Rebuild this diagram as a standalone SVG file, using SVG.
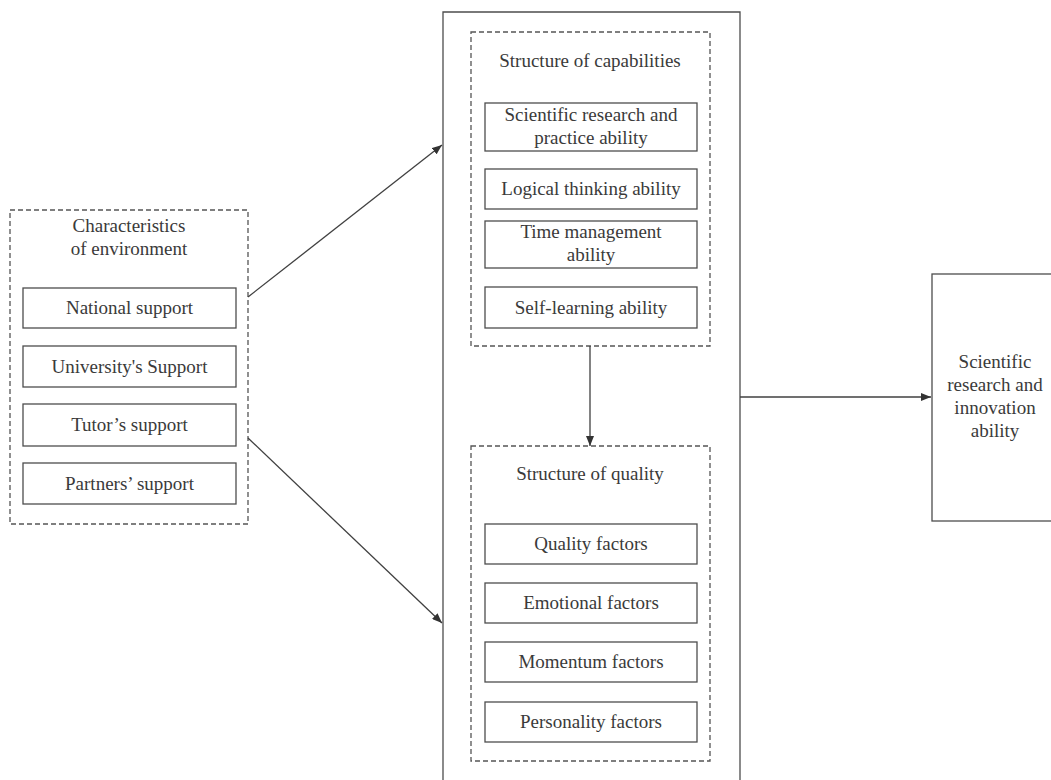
<svg xmlns="http://www.w3.org/2000/svg" width="1051" height="780" viewBox="0 0 1051 780" font-family="'Liberation Serif', 'Times New Roman', 'DejaVu Serif', serif">
<style>
text{font-family:'Liberation Serif','Times New Roman','DejaVu Serif',serif;font-size:19px;fill:#3a3a3a;text-anchor:middle}
.box{fill:#fff;stroke:#4d4d4d;stroke-width:1.3}
.dash{fill:none;stroke:#555;stroke-width:1.3;stroke-dasharray:5 3}
.outer{fill:none;stroke:#4d4d4d;stroke-width:1.3}
.conn{fill:none;stroke:#404040;stroke-width:1.3}
</style>
<defs>
<marker id="arr" viewBox="0 0 10 8" refX="10" refY="4" markerWidth="10" markerHeight="8" markerUnits="userSpaceOnUse" orient="auto">
<path d="M0,0 L10,4 L0,8 Z" fill="#333"/>
</marker>
</defs>
<rect width="1051" height="780" fill="#fff"/>

<g id="environment">
<rect class="dash" x="10" y="210" width="238" height="314"/>
<text x="129" y="232">Characteristics</text>
<text x="129" y="255">of environment</text>
<g id="national"><rect class="box" x="23" y="288" width="213" height="40"/><text x="129.5" y="314">National support</text></g>
<g id="university"><rect class="box" x="23" y="346" width="213" height="41"/><text x="129.5" y="373">University's Support</text></g>
<g id="tutor"><rect class="box" x="23" y="404" width="213" height="42"/><text x="129.5" y="431">Tutor’s support</text></g>
<g id="partners"><rect class="box" x="23" y="463" width="213" height="41"/><text x="129.5" y="490">Partners’ support</text></g>
</g>

<g id="middle">
<path class="outer" d="M443,790 L443,12 L740,12 L740,790"/>
</g>

<g id="capabilities">
<rect class="dash" x="471" y="32" width="239" height="314"/>
<text x="590" y="67">Structure of capabilities</text>
<g id="research-practice"><rect class="box" x="485" y="103" width="212" height="48"/><text x="591" y="121">Scientific research and</text><text x="591" y="144">practice ability</text></g>
<g id="logical"><rect class="box" x="485" y="169" width="212" height="40"/><text x="591" y="195">Logical thinking ability</text></g>
<g id="time"><rect class="box" x="485" y="221" width="212" height="47"/><text x="591" y="238">Time management</text><text x="591" y="261">ability</text></g>
<g id="self-learning"><rect class="box" x="485" y="287" width="212" height="41"/><text x="591" y="314">Self-learning ability</text></g>
</g>

<g id="quality">
<rect class="dash" x="471" y="446" width="239" height="315"/>
<text x="590" y="480">Structure of quality</text>
<g id="quality-factors"><rect class="box" x="485" y="524" width="212" height="40"/><text x="591" y="550">Quality factors</text></g>
<g id="emotional"><rect class="box" x="485" y="583" width="212" height="40"/><text x="591" y="609">Emotional factors</text></g>
<g id="momentum"><rect class="box" x="485" y="642" width="212" height="40"/><text x="591" y="668">Momentum factors</text></g>
<g id="personality"><rect class="box" x="485" y="702" width="212" height="40"/><text x="591" y="728">Personality factors</text></g>
</g>

<g id="result">
<rect class="box" x="932" y="274" width="130" height="247"/>
<text x="995" y="368">Scientific</text>
<text x="995" y="391">research and</text>
<text x="995" y="414">innovation</text>
<text x="995" y="437">ability</text>
</g>

<g id="connectors">
<line class="conn" x1="248" y1="297" x2="442" y2="145" marker-end="url(#arr)"/>
<line class="conn" x1="248" y1="438" x2="442" y2="623" marker-end="url(#arr)"/>
<line class="conn" x1="590" y1="346" x2="590" y2="446" marker-end="url(#arr)"/>
<line class="conn" x1="740" y1="397" x2="931" y2="397" marker-end="url(#arr)"/>
</g>
</svg>
